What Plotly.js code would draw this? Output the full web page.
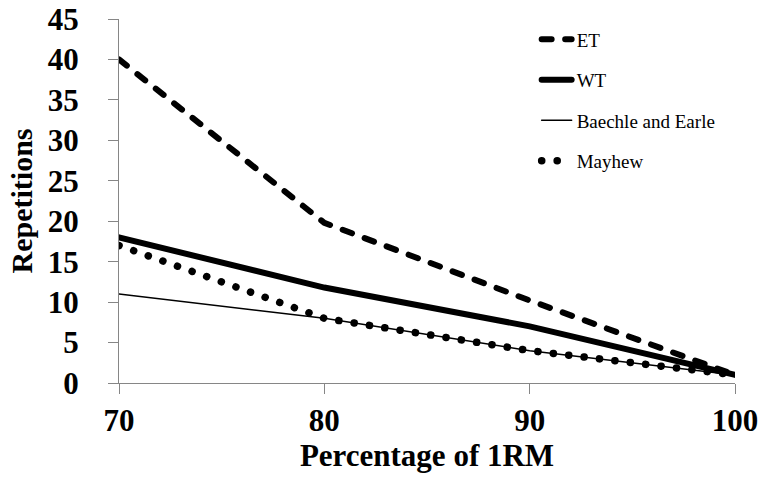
<!DOCTYPE html>
<html>
<head>
<meta charset="utf-8">
<script src="https://cdn.plot.ly/plotly-3.0.1.min.js"></script>
<style>html,body{margin:0;padding:0;background:#fff;}#chart{width:766px;height:489px;}</style>
</head>
<body>
<div id="chart"></div>
<script>
const percent1RM = [70, 80, 90, 100];
const etReps = [40, 19.8, 10.2, 1];
const wtReps = [18, 11.8, 7, 1];
const baechleReps = [11, 8, 4, 1];
const mayhewReps = [17, 8, 4, 1];
const seriesNames = ["ET", "WT", "Baechle and Earle", "Mayhew"];
const yTicks = [0, 5, 10, 15, 20, 25, 30, 35, 40, 45];
const xTicks = [70, 80, 90, 100];

const traces = [
  {x: percent1RM, y: etReps, name: seriesNames[0], legendgroup: "a", mode: "lines",
   line: {color: "#000", width: 6, dash: "10px,13.5px"}},
  {x: percent1RM, y: wtReps, name: seriesNames[1], legendgroup: "b", mode: "lines",
   line: {color: "#000", width: 6}},
  {x: percent1RM, y: baechleReps, name: seriesNames[2], legendgroup: "c", mode: "lines",
   line: {color: "#000", width: 1.5}},
  {x: percent1RM, y: mayhewReps, name: seriesNames[3], legendgroup: "d", mode: "lines",
   line: {color: "#000", width: 7.5, dash: "0.1px,15.4px"}}
];

const layout = {
  width: 766, height: 489,
  margin: {l: 119, r: 31, t: 19, b: 106},
  paper_bgcolor: "#fff", plot_bgcolor: "#fff",
  font: {family: "Liberation Serif, Times New Roman, serif", color: "#000"},
  showlegend: true,
  legend: {x: 0.678, y: 0.996, xanchor: "left", yanchor: "top",
    font: {family: "Liberation Serif, serif", size: 19, color: "#000"},
    traceorder: "grouped", tracegroupgap: 12.8, bgcolor: "rgba(0,0,0,0)"},
  xaxis: {range: [70, 100], tickvals: xTicks, ticktext: xTicks.map(String),
    showgrid: false, zeroline: false, showline: true, linecolor: "#868686", linewidth: 1,
    ticks: "outside", ticklen: 10, tickcolor: "#868686", ticklabelstandoff: 0,
    tickfont: {family: "Liberation Serif, serif", size: 31, color: "#000", weight: "bold"},
    title: {text: "<b>Percentage of 1RM</b>", font: {family: "Liberation Serif, serif", size: 31, color: "#000"}, standoff: 3}},
  yaxis: {range: [0, 45], tickvals: yTicks, ticktext: yTicks.map(String),
    showgrid: false, zeroline: false, showline: true, linecolor: "#868686", linewidth: 1,
    ticks: "outside", ticklen: 10, tickcolor: "#868686", ticklabelstandoff: 23,
    tickfont: {family: "Liberation Serif, serif", size: 31, color: "#000", weight: "bold"},
    title: {text: "<b>Repetitions</b>", font: {family: "Liberation Serif, serif", size: 30, color: "#000"}, standoff: 6}}
};

Plotly.newPlot("chart", traces, layout, {displayModeBar: false, staticPlot: true}).then(function(gd){
  document.querySelectorAll("#chart .scatterlayer .trace path.js-line, #chart .legend .legendlines path").forEach(function(p){
    p.style.strokeLinecap = "round";
  });
});
</script>
</body>
</html>
